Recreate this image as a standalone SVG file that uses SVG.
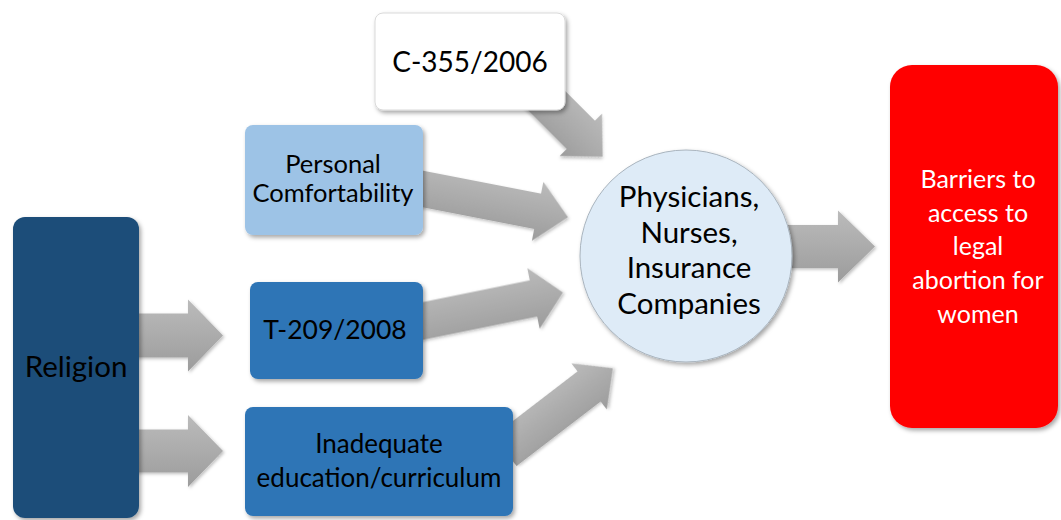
<svg xmlns="http://www.w3.org/2000/svg" width="1061" height="520" viewBox="0 0 1061 520">
  <defs>
    <linearGradient id="arrowGrad" x1="0" y1="0" x2="0" y2="1">
      <stop offset="0" stop-color="#BBBBBB"/>
      <stop offset="1" stop-color="#9C9C9C"/>
    </linearGradient>
    <filter id="shadow" x="-10%" y="-10%" width="130%" height="130%">
      <feDropShadow dx="2" dy="2.5" stdDeviation="2" flood-color="#000" flood-opacity="0.35"/>
    </filter>
    <filter id="ashadow" x="-10%" y="-20%" width="130%" height="150%">
      <feDropShadow dx="1.5" dy="1.5" stdDeviation="1.5" flood-color="#000" flood-opacity="0.25"/>
    </filter>
  </defs>
  <style>
    .arrow { fill: url(#arrowGrad); filter: url(#ashadow); }
    .box { filter: url(#shadow); }
    .t { font-family: Lato, "Liberation Sans", sans-serif; text-anchor: middle; fill: #000; }
    .w { fill: #FFFFFF; }
  </style>
  <rect width="1061" height="520" fill="#FFFFFF"/>

  <g id="connectors">
    <!-- Religion -> T-209/2008 -->
    <path class="arrow" transform="translate(130,335.5)" d="M0,-22 L58,-22 L58,-36 L93,0 L58,36 L58,22 L0,22 Z"/>
    <!-- Religion -> Inadequate -->
    <path class="arrow" transform="translate(130,451)" d="M0,-21.5 L58,-21.5 L58,-36 L93,0 L58,36 L58,21.5 L0,21.5 Z"/>
    <!-- C-355/2006 -> circle -->
    <path class="arrow" transform="translate(532,86) rotate(45)" d="M0,-20 L69,-20 L69,-30 L100,0 L69,30 L69,20 L0,20 Z"/>
    <!-- Personal Comfortability -> circle -->
    <path class="arrow" transform="translate(410,186.5) rotate(11)" d="M0,-18 L130,-18 L130,-30 L161,0 L130,30 L130,18 L0,18 Z"/>
    <!-- T-209/2008 -> circle -->
    <path class="arrow" transform="translate(410,323.6) rotate(-11.5)" d="M0,-18.5 L126,-18.5 L126,-31 L156,0 L126,31 L126,18.5 L0,18.5 Z"/>
    <!-- Inadequate -> circle -->
    <path class="arrow" transform="translate(505,451) rotate(-37.5)" d="M0,-19 L106,-19 L106,-29 L136,0 L106,29 L106,19 L0,19 Z"/>
    <!-- circle -> Barriers -->
    <path class="arrow" transform="translate(785,246.5)" d="M0,-21.5 L53,-21.5 L53,-36 L90,0 L53,36 L53,21.5 L0,21.5 Z"/>
  </g>

  <g id="node-c355">
    <rect class="box" x="375" y="13" width="190" height="97" rx="8" fill="#FFFFFF" stroke="#D9D9D9" stroke-width="1"/>
    <text class="t" x="470" y="72" font-size="28">C-355/2006</text>
  </g>

  <g id="node-personal">
    <rect class="box" x="245" y="125" width="178" height="110" rx="8" fill="#9DC3E6"/>
    <text class="t" x="333" y="173" font-size="25.5">Personal</text>
    <text class="t" x="333" y="202" font-size="25.5">Comfortability</text>
  </g>

  <g id="node-religion">
    <rect class="box" x="13" y="217" width="126" height="301" rx="12" fill="#1F4E79"/>
    <text class="t" x="76" y="377" font-size="29.5">Religion</text>
  </g>

  <g id="node-t209">
    <rect class="box" x="250" y="282" width="173" height="97" rx="8" fill="#2E75B6"/>
    <text class="t" x="335" y="339" font-size="26.5">T-209/2008</text>
  </g>

  <g id="node-inadequate">
    <rect class="box" x="245" y="407" width="268" height="109" rx="8" fill="#2E75B6"/>
    <text class="t" x="379" y="453" font-size="26">Inadequate</text>
    <text class="t" x="379" y="487" font-size="26">education/curriculum</text>
  </g>

  <g id="node-circle">
    <circle class="box" cx="686" cy="256" r="106" fill="#DEEBF7" stroke="#A9B4BE" stroke-width="1"/>
    <text class="t" x="689" y="207" font-size="29.5">Physicians,</text>
    <text class="t" x="689" y="243" font-size="29.5">Nurses,</text>
    <text class="t" x="689" y="278" font-size="29.5">Insurance</text>
    <text class="t" x="689" y="314" font-size="29.5">Companies</text>
  </g>

  <g id="node-barriers">
    <rect class="box" x="890" y="65" width="168" height="363" rx="22" fill="#FF0000"/>
    <text class="t w" x="978" y="188" font-size="25">Barriers to</text>
    <text class="t w" x="978" y="221.5" font-size="25">access to</text>
    <text class="t w" x="978" y="255" font-size="25">legal</text>
    <text class="t w" x="978" y="289" font-size="25">abortion for</text>
    <text class="t w" x="978" y="323" font-size="25">women</text>
  </g>
</svg>
